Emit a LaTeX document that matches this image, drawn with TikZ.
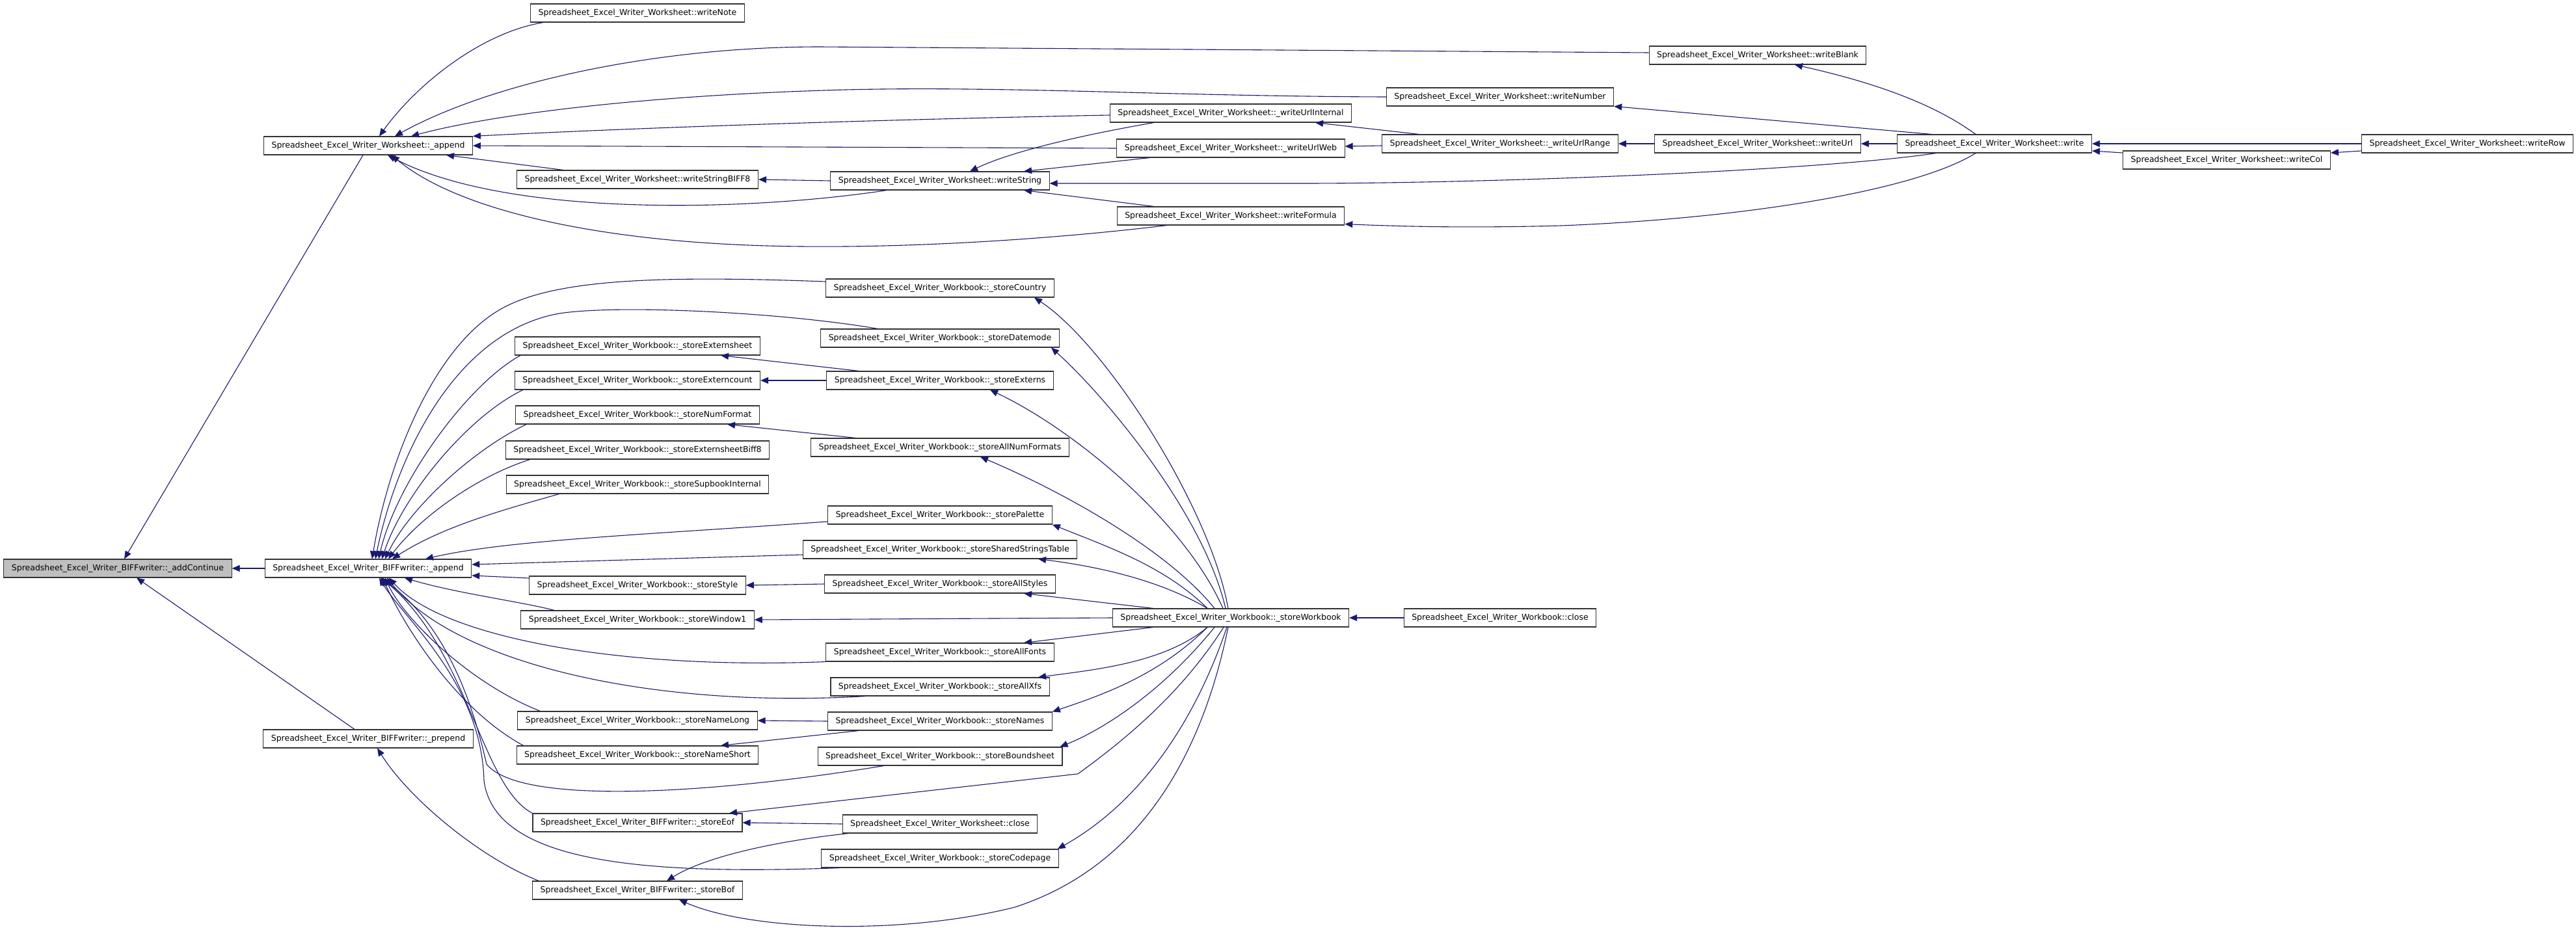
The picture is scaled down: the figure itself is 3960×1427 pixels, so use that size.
\documentclass[tikz,border=0pt]{standalone}
\usepackage{fontspec}
\setmainfont{DejaVu Sans}
\usetikzlibrary{arrows.meta}
\definecolor{azulnoche}{RGB}{25,25,112}
\definecolor{grisnodo}{RGB}{191,191,191}
\newcommand{\prefws}{Spreadsheet\_Excel\_Writer\_Worksheet::}
\newcommand{\prefwb}{Spreadsheet\_Excel\_Writer\_Workbook::}
\newcommand{\prefbiff}{Spreadsheet\_Excel\_Writer\_BIFFwriter::}

\begin{document}
\begin{tikzpicture}[x=1pt,y=-1pt,
		fn/.style={draw=black!80, line width=1.1pt, fill=white, inner xsep=12pt, inner ysep=0pt,
			minimum height=28pt, font=\fontsize{12.5}{15}\selectfont},
		call/.style={draw=azulnoche, line width=1.1pt, -{Triangle[length=12pt,width=10pt]}}]
			% Fondo y margenes
			\fill[white] (0,0) rectangle (3960,1427);
			\useasboundingbox (0,0) rectangle (3960,1427);

			% Nodos de la izquierda
			\node[fn, fill=grisnodo] (addcontinue) at (181,874) {\prefbiff\_addContinue};
			\node[fn] (wsappend) at (566,224) {\prefws\_append};
			\node[fn] (biffappend) at (566,874) {\prefbiff\_append};
			\node[fn] (prepend) at (566,1136) {\prefbiff\_prepend};

			% Nodos de Worksheet
			\node[fn] (writenote) at (980,20) {\prefws writeNote};
			\node[fn] (writebiff8) at (980,276) {\prefws writeStringBIFF8};
			\node[fn] (writestring) at (1445,278) {\prefws writeString};
			\node[fn] (urlinternal) at (1892,174) {\prefws\_writeUrlInternal};
			\node[fn] (urlweb) at (1892,228) {\prefws\_writeUrlWeb};
			\node[fn] (writeformula) at (1892,332) {\prefws writeFormula};
			\node[fn] (writeblank) at (2702,85) {\prefws writeBlank};
			\node[fn] (writenumber) at (2306,149) {\prefws writeNumber};
			\node[fn] (urlrange) at (2306,221) {\prefws\_writeUrlRange};
			\node[fn] (writeurl) at (2702,221) {\prefws writeUrl};
			\node[fn] (write) at (3066,221) {\prefws write};
			\node[fn] (writecol) at (3423,246) {\prefws writeCol};
			\node[fn] (writerow) at (3793,221) {\prefws writeRow};

			% Nodos de Workbook, primera columna
			\node[fn] (externsheet) at (980,532) {\prefwb\_storeExternsheet};
			\node[fn] (externcount) at (980,585) {\prefwb\_storeExterncount};
			\node[fn] (numformat) at (980,638) {\prefwb\_storeNumFormat};
			\node[fn] (externsheetbiff8) at (980,692) {\prefwb\_storeExternsheetBiff8};
			\node[fn] (supbook) at (980,745) {\prefwb\_storeSupbookInternal};
			\node[fn] (storestyle) at (980,900) {\prefwb\_storeStyle};
			\node[fn] (window1) at (980,953) {\prefwb\_storeWindow1};
			\node[fn] (namelong) at (980,1108) {\prefwb\_storeNameLong};
			\node[fn] (nameshort) at (980,1161) {\prefwb\_storeNameShort};
			\node[fn] (storeeof) at (980,1265) {\prefbiff\_storeEof};
			\node[fn] (storebof) at (980,1369) {\prefbiff\_storeBof};

			% Nodos de Workbook, segunda columna
			\node[fn] (storecountry) at (1445,443) {\prefwb\_storeCountry};
			\node[fn] (storedatemode) at (1445,520) {\prefwb\_storeDatemode};
			\node[fn] (externs) at (1445,585) {\prefwb\_storeExterns};
			\node[fn] (allnumformats) at (1445,688) {\prefwb\_storeAllNumFormats};
			\node[fn] (palette) at (1445,792) {\prefwb\_storePalette};
			\node[fn] (sharedstrings) at (1445,845) {\prefwb\_storeSharedStringsTable};
			\node[fn] (allstyles) at (1445,898) {\prefwb\_storeAllStyles};
			\node[fn] (allfonts) at (1445,1003) {\prefwb\_storeAllFonts};
			\node[fn] (allxfs) at (1445,1056) {\prefwb\_storeAllXfs};
			\node[fn] (names) at (1445,1109) {\prefwb\_storeNames};
			\node[fn] (boundsheet) at (1445,1163) {\prefwb\_storeBoundsheet};
			\node[fn] (wsclose) at (1445,1267) {\prefws close};
			\node[fn] (codepage) at (1445,1320) {\prefwb\_storeCodepage};
			\node[fn] (storewb) at (1892,950) {\prefwb\_storeWorkbook};
			\node[fn] (wbclose) at (2306,950) {\prefwb close};

			% Llamadas a Worksheet::_append
			\draw[call] ([xshift=20pt]writenote.south west) .. controls (740,50) and (640,130) .. ([xshift=17pt]wsappend.north);
			\draw[call] ([yshift=4pt]writeblank.west) -- (1260,72) .. controls (1000,72) and (750,130) .. ([xshift=41pt]wsappend.north);
			\draw[call] (writenumber.west) .. controls (1800,148) and (1550,132) .. (1300,138) .. controls (1000,146) and (760,175) .. ([xshift=66pt]wsappend.north);
			\draw[call] ([yshift=-3pt]urlinternal.west) .. controls (1300,185) and (950,198) .. (wsappend.north east);
			\draw[call] (urlweb.west) -- (wsappend.east);
			\draw[call] ([xshift=72pt]writebiff8.north west) -- ([xshift=120pt]wsappend.south);
			\draw[call] ([xshift=87pt]writestring.south west) .. controls (1150,325) and (780,335) .. ([xshift=30pt]wsappend.south);
			\draw[call] ([xshift=77pt]writeformula.south west) .. controls (1600,370) and (1350,385) .. (1150,377) .. controls (900,367) and (700,320) .. ([xshift=36pt]wsappend.south);

			% Llamadas a writeString
			\draw[call] (writestring.west) -- (writebiff8.east);
			\draw[call] ([xshift=68pt]urlinternal.south west) .. controls (1650,210) and (1550,235) .. ([xshift=46pt]writestring.north);
			\draw[call] ([xshift=51pt]urlweb.south west) -- ([xshift=129pt]writestring.north);
			\draw[call] ([xshift=60pt]write.south west) .. controls (2800,262) and (2300,282) .. (2000,282) -- ([yshift=-4pt]writestring.east);
			\draw[call] ([xshift=57pt]writeformula.north west) -- ([xshift=129pt]writestring.south);

			% Llamadas desde write y sus vecinos
			\draw[call] ([xshift=57pt]urlrange.north west) -- ([xshift=130pt]urlinternal.south);
			\draw[call] ([yshift=-3pt]urlrange.west) -- ([yshift=3pt]urlweb.east);
			\draw[call] (writeurl.west) -- (urlrange.east);
			\draw[call] (write.west) -- (writeurl.east);
			\draw[call] ([xshift=-29pt]write.north) .. controls (2960,150) and (2850,120) .. ([xshift=57pt]writeblank.south);
			\draw[call] ([xshift=-97pt]write.north) -- (writenumber.south east);
			\draw[call] ([xshift=-29pt]write.south) .. controls (2950,290) and (2700,335) .. (2400,347) .. controls (2250,351) and (2150,348) .. ([yshift=2pt]writeformula.south east);
			\draw[call] (writerow.west) -- (write.east);
			\draw[call] ([yshift=11pt]writecol.west) -- ([yshift=-11pt]write.east);
			\draw[call] ([yshift=-11pt]writerow.west) -- ([yshift=11pt]writecol.east);

			% Llamadas a _addContinue y _prepend
			\draw[call] ([xshift=-8pt]wsappend.south) -- ([xshift=10pt]addcontinue.north);
			\draw[call] (biffappend.west) -- (addcontinue.east);
			\draw[call] ([xshift=-21pt]prepend.north) -- ([xshift=29pt]addcontinue.south);
			\draw[call] ([xshift=10pt]storebof.north west) .. controls (740,1320) and (630,1230) .. ([xshift=14pt]prepend.south);

			% Llamadas a BIFFwriter::_append
			\draw[call] ([yshift=10pt]storecountry.west) .. controls (1000,423) and (840,430) .. (762,480) .. controls (660,545) and (595,720) .. ([xshift=6pt]biffappend.north);
			\draw[call] ([xshift=-96pt]storedatemode.north) .. controls (1200,480) and (950,468) .. (860,482) .. controls (700,510) and (610,700) .. ([xshift=11pt]biffappend.north);
			\draw[call] ([xshift=9pt]externsheet.south west) .. controls (720,590) and (610,740) .. ([xshift=16pt]biffappend.north);
			\draw[call] ([xshift=13pt]externcount.south west) .. controls (720,640) and (620,760) .. ([xshift=21pt]biffappend.north);
			\draw[call] ([xshift=17pt]numformat.south west) .. controls (730,690) and (630,780) .. ([xshift=26pt]biffappend.north);
			\draw[call] ([xshift=38pt]externsheetbiff8.south west) .. controls (740,730) and (650,790) .. ([xshift=31pt]biffappend.north);
			\draw[call] ([xshift=82pt]supbook.south west) .. controls (770,785) and (680,810) .. ([xshift=37pt]biffappend.north);
			\draw[call] ([yshift=-10pt]palette.west) .. controls (1000,822) and (780,830) .. ([xshift=88pt]biffappend.north);
			\draw[call] ([yshift=-8pt]sharedstrings.west) -- ([yshift=6pt]biffappend.east);
			\draw[call] ([yshift=11pt]storestyle.west) -- ([yshift=-11pt]biffappend.east);
			\draw[call] ([xshift=52pt]window1.north west) .. controls (800,925) and (700,912) .. ([xshift=56pt]biffappend.south);
			\draw[call] (allfonts.south west) .. controls (950,1030) and (680,980) .. ([xshift=32pt]biffappend.south);
			\draw[call] ([xshift=54pt]allxfs.south west) .. controls (1000,1090) and (700,1020) .. ([xshift=29pt]biffappend.south);
			\draw[call] ([xshift=35pt]namelong.north west) .. controls (720,1050) and (620,950) .. ([xshift=26pt]biffappend.south);
			\draw[call] ([xshift=11pt]nameshort.north west) .. controls (700,1090) and (620,960) .. ([xshift=22pt]biffappend.south);
			\draw[call] ([xshift=102pt]boundsheet.south west) .. controls (1100,1220) and (800,1240) .. (748,1175) .. controls (735,1120) and (700,970) .. ([xshift=19pt]biffappend.south);
			\draw[call] (storeeof.north west) .. controls (740,1210) and (720,1000) .. ([xshift=20pt]biffappend.south);
			\draw[call] ([xshift=29pt]codepage.south west) .. controls (1000,1345) and (760,1330) .. (744,1200) .. controls (740,1050) and (620,950) .. ([xshift=17pt]biffappend.south);

			% Llamadas entre funciones de Workbook
			\draw[call] ([xshift=50pt]externs.north west) -- ([xshift=128pt]externsheet.south);
			\draw[call] (externs.west) -- (externcount.east);
			\draw[call] ([xshift=69pt]allnumformats.north west) -- ([xshift=138pt]numformat.south);
			\draw[call] (allstyles.west) -- (storestyle.east);
			\draw[call] (names.west) -- (namelong.east);
			\draw[call] ([xshift=48pt]names.south west) -- ([xshift=128pt]nameshort.north);
			\draw[call] (wsclose.west) -- (storeeof.east);
			\draw[call] ([xshift=9pt]wsclose.south west) .. controls (1180,1295) and (1080,1320) .. ([xshift=45pt]storebof.north);

			% Llamadas desde _storeWorkbook
			\draw[call] (wbclose.west) -- (storewb.east);
			\draw[call] ([xshift=-4pt]storewb.north) .. controls (1860,780) and (1700,530) .. ([xshift=145pt]storecountry.south);
			\draw[call] ([xshift=-8pt]storewb.north) .. controls (1850,790) and (1700,610) .. ([xshift=171pt]storedatemode.south);
			\draw[call] ([xshift=-12pt]storewb.north) .. controls (1820,800) and (1650,660) .. ([xshift=77pt]externs.south);
			\draw[call] ([xshift=-25pt]storewb.north) .. controls (1790,840) and (1620,750) .. ([xshift=62pt]allnumformats.south);
			\draw[call] ([xshift=-36pt]storewb.north) .. controls (1790,870) and (1700,840) .. (palette.south east);
			\draw[call] ([xshift=-36pt]storewb.north) .. controls (1780,890) and (1680,870) .. ([xshift=151pt]sharedstrings.south);
			\draw[call] ([xshift=63pt]storewb.north west) -- ([xshift=129pt]allstyles.south);
			\draw[call] (storewb.west) -- (window1.east);
			\draw[call] ([xshift=63pt]storewb.south west) -- ([xshift=129pt]allfonts.north);
			\draw[call] ([xshift=-36pt]storewb.south) .. controls (1790,1020) and (1680,1030) .. ([xshift=151pt]allxfs.north);
			\draw[call] ([xshift=-36pt]storewb.south) .. controls (1780,1040) and (1690,1070) .. (names.north east);
			\draw[call] ([xshift=-25pt]storewb.south) .. controls (1790,1060) and (1700,1120) .. ([xshift=-4pt]boundsheet.north east);
			\draw[call] ([xshift=-11pt]storewb.south) .. controls (1820,1060) and (1740,1130) .. (1657,1190) -- ([xshift=141pt]storeeof.north);
			\draw[call] ([xshift=-6pt]storewb.south) .. controls (1840,1100) and (1760,1230) .. ([xshift=-2pt]codepage.north east);
			\draw[call] ([xshift=-4pt]storewb.south) .. controls (1850,1150) and (1760,1330) .. (1560,1395) .. controls (1380,1440) and (1150,1430) .. ([xshift=64pt]storebof.south);
		\end{tikzpicture}
\end{document}
